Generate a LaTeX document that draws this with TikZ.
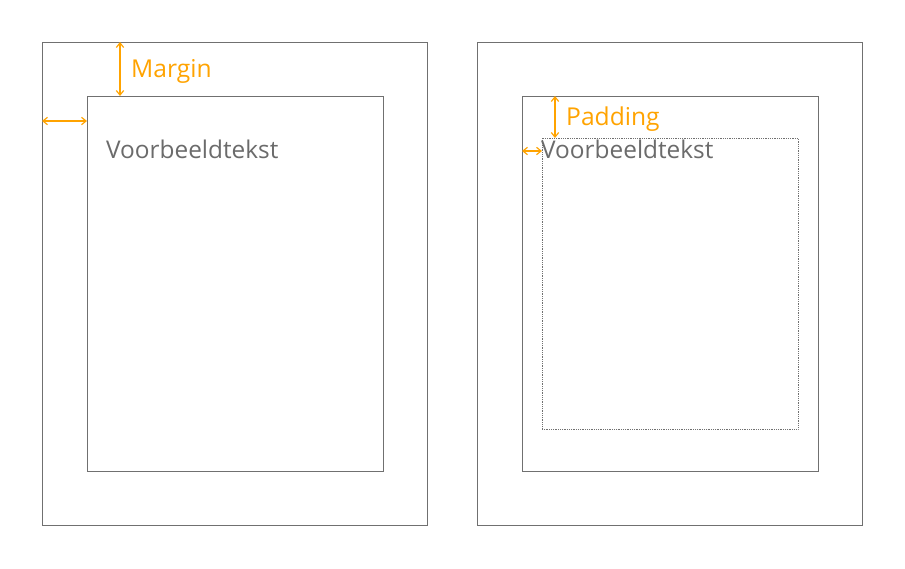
\documentclass[tikz,border=0pt]{standalone}
\usepackage{fontspec}
\setmainfont{Open Sans}
\usetikzlibrary{arrows.meta, positioning}
\definecolor{frame}{HTML}{707070}
\definecolor{sample}{HTML}{6B6B6B}
\definecolor{accent}{HTML}{FFA300}
\tikzset{
  page/.style={rectangle, draw=frame, line width=0.9pt, inner sep=0pt, outer sep=0pt},
  content/.style={rectangle, draw=frame, densely dotted, line width=0.8pt, inner sep=0pt, outer sep=0pt},
  sample/.style={text=sample, font=\fontsize{24.4}{28}\selectfont, inner sep=0pt, anchor=west},
  label/.style={text=accent, font=\fontsize{24.6}{28}\selectfont, inner sep=0pt, anchor=west},
  dim/.style={{Straight Barb[length=1.6mm, width=2.6mm]}-{Straight Barb[length=1.6mm, width=2.6mm]}, draw=accent, line width=1.2pt},
}
\begin{document}
\begin{tikzpicture}[x=1pt, y=-1pt]
  \useasboundingbox (0,0) rectangle (905,568);
  % margin
  \node[page, minimum width=385pt, minimum height=483pt] (outerL) at (234.5,283.5) {};
  \node[page, minimum width=296pt, minimum height=375pt] (innerL) at (235,283.5) {};
  \node[sample] (textL) at (106,149) {Voorbeeldtekst};
  \coordinate (mtop) at (120,42);
  \coordinate (mbot) at (120,96);
  \coordinate (mleft) at (42,121);
  \coordinate (mright) at (87,121);
  \draw[dim] (mtop) -- (mbot);
  \draw[dim] (mleft) -- (mright);
  \node[label] (margin) at (131,71) {Margin};
  % padding
  \node[page, minimum width=385pt, minimum height=483pt] (outerR) at (669.5,283.5) {};
  \node[page, minimum width=296pt, minimum height=375pt] (innerR) at (670,283.5) {};
  \node[content, minimum width=256pt, minimum height=291pt] (box) at (670,283.5) {};
  \node[sample] (textR) at (541,149) {Voorbeeldtekst};
  \coordinate (ptop) at (555,96);
  \coordinate (pbot) at (555,138);
  \coordinate (pleft) at (522,151);
  \coordinate (pright) at (542,151);
  \draw[dim] (ptop) -- (pbot);
  \draw[dim] (pleft) -- (pright);
  \node[label] (padding) at (566,119) {Padding};
\end{tikzpicture}
\end{document}
